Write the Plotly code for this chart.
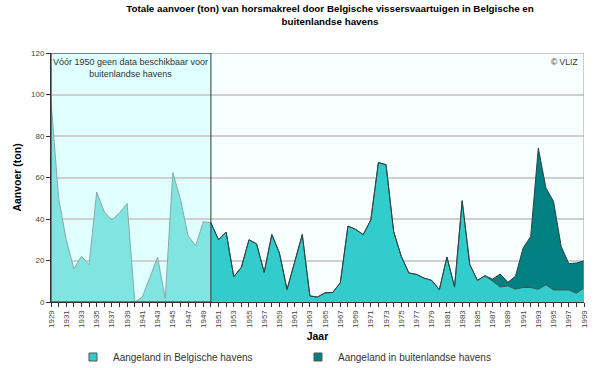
import plotly.graph_objects as go

# ---- data ----
years_pre = list(range(1929, 1951))
belg_pre = [97, 50, 30, 16, 22, 18, 53, 43.4, 39.5, 43, 47.5, 0, 2.4, 12, 21.6, 1.6,
            62.3, 49.6, 32, 27, 38.7, 38.2]

years_post = list(range(1950, 2000))
belg_post = [38.2, 30, 33.7, 12.2, 16.7, 30, 28, 14.3, 32.5, 23.6,
             6, 18.7, 32.5, 2.9, 2.4, 4.4, 4.6, 9.3, 36.6, 35,
             32.5, 39.5, 67.2, 66.2, 34, 22, 14, 13.3, 11.5, 10.4,
             5.9, 21.7, 7.2, 48.8, 18, 10.4, 12.7, 10, 7.2, 7.8,
             6.2, 7, 7, 6.1, 8.3, 5.8, 5.8, 5.8, 4.2, 6.7]
foreign_post = [0] * 37 + [1, 6.3, 1.7, 6.2, 19, 24.6, 68.1, 46.7, 42.7, 21, 12.7, 14.6, 13.2]

tick_years = list(range(1929, 2000))
tick_labels = [str(y) if (y - 1929) % 2 == 0 else "" for y in tick_years]
y_ticks = [0, 20, 40, 60, 80, 100, 120]

series_names = ["Aangeland in Belgische havens", "Aangeland in buitenlandse havens"]

C_PRE = "#80E5E0"
C_BEL = "#33CCCC"
C_FOR = "#008080"
FONT = "Liberation Sans"

fig = go.Figure()

fig.add_trace(go.Scatter(x=years_pre, y=belg_pre, mode="lines", fill="tozeroy",
                         fillcolor=C_PRE, line=dict(color="#8AA8A8", width=1),
                         showlegend=False, hoverinfo="skip"))
fig.add_trace(go.Scatter(x=years_post, y=belg_post, mode="lines", stackgroup="s",
                         fillcolor=C_BEL, line=dict(color="#3A5555", width=1),
                         showlegend=False))
fig.add_trace(go.Scatter(x=years_post, y=foreign_post, mode="lines", stackgroup="s",
                         fillcolor=C_FOR, line=dict(color="#2E4444", width=1),
                         showlegend=False))

# legend entries
for name, col in zip(series_names, [C_BEL, C_FOR]):
    fig.add_trace(go.Scatter(x=[None], y=[None], mode="markers", name=name,
                             marker=dict(symbol="square", size=8, color=col,
                                         line=dict(color="#555555", width=1))))

shapes = [
    dict(type="rect", xref="x", yref="y", x0=1929, x1=1950, y0=0, y1=120,
         fillcolor="#E0FFFF", line=dict(width=0), layer="below"),
    dict(type="rect", xref="x", yref="y", x0=1929, x1=1999, y0=0, y1=120,
         fillcolor="rgba(0,0,0,0)", line=dict(color="#A0A0A0", width=1), layer="above"),
    dict(type="rect", xref="x", yref="y", x0=1929, x1=1950, y0=0, y1=120,
         fillcolor="rgba(0,0,0,0)", line=dict(color="#333333", width=1), layer="above"),
]

fig.update_layout(
    width=600, height=368,
    margin=dict(l=51, r=16, t=53, b=66),
    paper_bgcolor="white",
    plot_bgcolor="#F6FEFE",
    font=dict(family=FONT, size=9, color="#222222"),
    title=dict(text="Totale aanvoer (ton) van horsmakreel door Belgische vissersvaartuigen in Belgische en<br>buitenlandse havens",
               x=330 / 600, xanchor="center", yref="container", y=1 - 12 / 368, yanchor="top",
               font=dict(family=FONT, size=9.8, color="black", weight="bold")),
    xaxis=dict(range=[1929, 1999], tickmode="array", tickvals=tick_years, ticktext=tick_labels,
               tickangle=-90, ticks="outside", ticklen=4, tickcolor="#333333",
               tickfont=dict(size=8, color="#444444"), showgrid=False, zeroline=False,
               showline=True, linecolor="#333333", linewidth=1, automargin=False,
               title=dict(text="Jaar", standoff=5, font=dict(size=10.5, color="black", weight="bold"))),
    yaxis=dict(range=[0, 120], tickvals=y_ticks, ticks="outside", ticklen=4, tickcolor="#333333",
               tickfont=dict(size=8, color="#444444"), showgrid=True, gridcolor="#CFCFCF",
               gridwidth=2, zeroline=False, showline=True, linecolor="#333333", linewidth=1,
               automargin=False,
               title=dict(text="Aanvoer (ton)", standoff=7, font=dict(size=10.5, color="black", weight="bold"))),
    legend=dict(orientation="h", x=(73 - 51) / 533, xanchor="left",
                yref="container", y=1 - 357 / 368, yanchor="middle",
                entrywidth=180, entrywidthmode="pixels", itemwidth=30, traceorder="normal",
                font=dict(size=10, color="#333333"), bgcolor="rgba(0,0,0,0)"),
    shapes=shapes,
    annotations=[
        dict(text="Vóór 1950 geen data beschikbaar voor<br>buitenlandse havens", xref="x", yref="y",
             x=1939.5, y=120, yanchor="top", xanchor="center", showarrow=False, yshift=-2,
             font=dict(size=9, color="#333333")),
        dict(text="© VLIZ", xref="paper", yref="paper", x=1, y=1, xanchor="right", yanchor="top",
             showarrow=False, xshift=-4, yshift=-2, font=dict(size=8.5, color="#333333")),
    ],
)

fig.write_html("out.html", config={"displayModeBar": False},
               post_script="document.body.style.margin='0px';")
